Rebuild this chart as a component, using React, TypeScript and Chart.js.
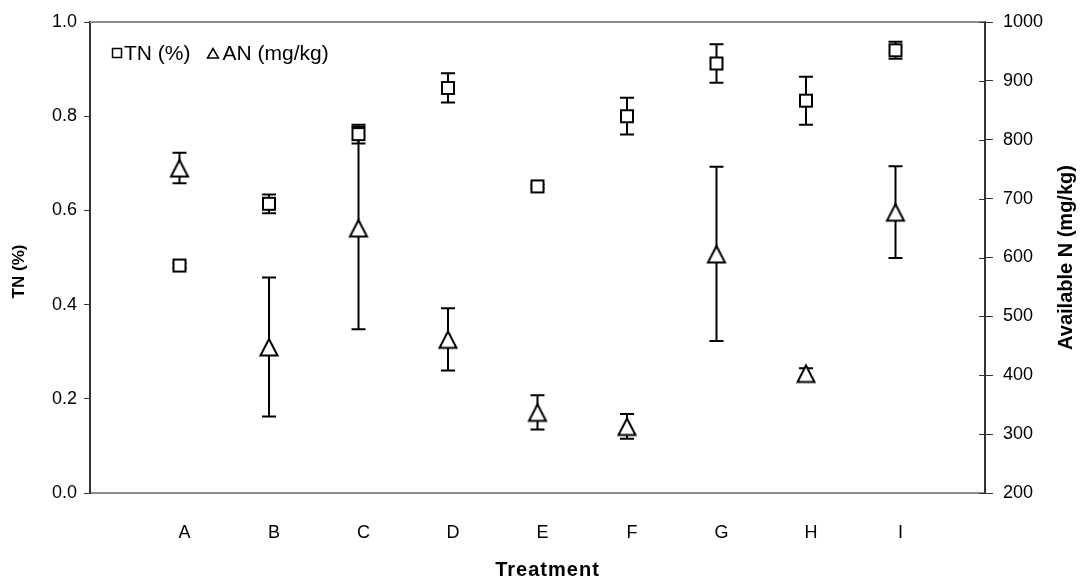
import React, { useEffect, useRef } from 'react';
import { Chart, registerables } from 'chart.js';

Chart.register(...registerables);

// ---- data ----
const categories = ['A', 'B', 'C', 'D', 'E', 'F', 'G', 'H', 'I'];
const tnMean = [0.483, 0.614, 0.762, 0.86, 0.651, 0.8, 0.912, 0.833, 0.94];
const tnErr = [0.005, 0.02, 0.02, 0.031, 0.004, 0.039, 0.041, 0.051, 0.018];
const anMean = [752, 448, 650, 461, 337, 313, 606, 403, 677];
const anErr = [26, 118, 172, 53, 29, 21, 148, 9, 78];
const seriesNames = ['TN (%)', 'AN (mg/kg)'];
const xTitle = 'Treatment';
const leftTitle = 'TN (%)';
const rightTitle = 'Available N (mg/kg)';

const FONT = "'Liberation Sans', Arial, sans-serif";

function makeMarker(kind: 'square' | 'triangle', small: boolean): HTMLCanvasElement {
  const c = document.createElement('canvas');
  const size = small ? 14 : kind === 'square' ? 16 : 24;
  c.width = size;
  c.height = size;
  const ctx = c.getContext('2d')!;
  ctx.fillStyle = '#ffffff';
  ctx.strokeStyle = '#000000';
  ctx.lineWidth = small ? 1.5 : 2;
  ctx.lineJoin = 'miter';
  ctx.beginPath();
  if (kind === 'square') {
    if (small) ctx.rect(2.5, 2.5, 9, 9);
    else ctx.rect(2, 2, 12, 12);
  } else {
    if (small) {
      ctx.moveTo(7, 2.5);
      ctx.lineTo(1.5, 12);
      ctx.lineTo(12.5, 12);
    } else {
      ctx.moveTo(12, 4);
      ctx.lineTo(3.5, 20.5);
      ctx.lineTo(20.5, 20.5);
    }
    ctx.closePath();
  }
  ctx.fill();
  ctx.stroke();
  return c;
}

function makePlugin(legendMarkers: HTMLCanvasElement[]) {
  return {
    id: 'errorBarsAndExtras',
    beforeDatasetsDraw(chart: any) {
      const ctx = chart.ctx;
      const sets = [
        { mean: tnMean, err: tnErr, axis: 'y' },
        { mean: anMean, err: anErr, axis: 'y1' },
      ];
      ctx.save();
      ctx.strokeStyle = '#000';
      ctx.lineWidth = 2;
      sets.forEach((s, di) => {
        const meta = chart.getDatasetMeta(di);
        const scale = chart.scales[s.axis];
        meta.data.forEach((pt: any, i: number) => {
          const x = pt.x;
          const yTop = scale.getPixelForValue(s.mean[i] + s.err[i]);
          const yBot = scale.getPixelForValue(s.mean[i] - s.err[i]);
          ctx.beginPath();
          ctx.moveTo(x, yTop);
          ctx.lineTo(x, yBot);
          ctx.moveTo(x - 7, yTop);
          ctx.lineTo(x + 7, yTop);
          ctx.moveTo(x - 7, yBot);
          ctx.lineTo(x + 7, yBot);
          ctx.stroke();
        });
      });
      ctx.restore();
    },
    afterDraw(chart: any) {
      const ctx = chart.ctx;
      const { left, right, top, bottom } = chart.chartArea;
      ctx.save();
      // top frame line
      ctx.strokeStyle = '#8c8c8c';
      ctx.lineWidth = 2;
      ctx.beginPath();
      ctx.moveTo(left, top);
      ctx.lineTo(right, top);
      ctx.stroke();
      // inner half of right-axis tick marks
      const y1 = chart.scales.y1;
      ctx.strokeStyle = '#333';
      ctx.lineWidth = 1;
      y1.ticks.forEach((t: any) => {
        const y = Math.round(y1.getPixelForValue(t.value)) + 0.5;
        ctx.beginPath();
        ctx.moveTo(right - 6, y);
        ctx.lineTo(right, y);
        ctx.stroke();
      });

      // legend (inside plot, top-left)
      ctx.fillStyle = '#000';
      ctx.font = `21px ${FONT}`;
      ctx.textAlign = 'left';
      ctx.textBaseline = 'middle';
      const ly = top + 31;
      let cx = left + 27;
      seriesNames.forEach((name, i) => {
        const m = legendMarkers[i];
        ctx.drawImage(m, Math.round(cx - m.width / 2), Math.round(ly - m.height / 2));
        const tx = cx + (i === 0 ? 7 : 9);
        ctx.fillText(name, tx, ly + 1);
        cx = tx + ctx.measureText(name).width + 23;
      });

      // axis titles
      ctx.textAlign = 'center';
      // x title
      ctx.font = `bold 20px ${FONT}`;
      try { (ctx as any).letterSpacing = '1px'; } catch (e) {}
      ctx.fillText(xTitle, (left + right) / 2 + 10, chart.height - 15);
      try { (ctx as any).letterSpacing = '0px'; } catch (e) {}
      // left title
      ctx.save();
      ctx.font = `bold 17px ${FONT}`;
      ctx.translate(19, (top + bottom) / 2 + 14);
      ctx.rotate(-Math.PI / 2);
      ctx.fillText(leftTitle, 0, 0);
      ctx.restore();
      // right title (reads bottom-to-top)
      ctx.save();
      ctx.font = `bold 20px ${FONT}`;
      ctx.translate(y1.right - 22, (top + bottom) / 2);
      ctx.rotate(-Math.PI / 2);
      ctx.fillText(rightTitle, 0, 0);
      ctx.restore();
      ctx.restore();
    },
  };
}

export default function App() {
  const ref = useRef<HTMLCanvasElement | null>(null);

  useEffect(() => {
    if (!ref.current) return;
    const sq = makeMarker('square', false);
    const tri = makeMarker('triangle', false);
    const sqSmall = makeMarker('square', true);
    const triSmall = makeMarker('triangle', true);

    const chart = new Chart(ref.current, {
      type: 'scatter',
      data: {
        datasets: [
          {
            label: seriesNames[0],
            data: tnMean.map((v, i) => ({ x: i + 1, y: v })),
            yAxisID: 'y',
            pointStyle: sq as any,
            showLine: false,
          },
          {
            label: seriesNames[1],
            data: anMean.map((v, i) => ({ x: i + 1, y: v })),
            yAxisID: 'y1',
            pointStyle: tri as any,
            showLine: false,
          },
        ],
      },
      options: {
        animation: false,
        responsive: true,
        maintainAspectRatio: false,
        layout: { padding: { top: 22, left: 0, right: 0, bottom: 0 } },
        plugins: {
          tooltip: { enabled: false },
          legend: { display: false },
        },
        scales: {
          x: {
            type: 'linear',
            min: 0,
            max: 10,
            afterBuildTicks: (axis: any) => {
              axis.ticks = categories.map((_, i) => ({ value: i + 1 }));
            },
            afterFit: (axis: any) => {
              axis.height = 92;
            },
            ticks: {
              autoSkip: false,
              maxRotation: 0,
              padding: 29,
              labelOffset: 5,
              color: '#000',
              font: { family: FONT, size: 18 },
              callback: (v: any) => categories[Number(v) - 1] ?? '',
            },
            grid: { display: false, drawTicks: false },
            border: { display: true, color: '#8c8c8c', width: 2 },
            title: { display: false },
          },
          y: {
            type: 'linear',
            position: 'left',
            min: 0,
            max: 1,
            afterFit: (axis: any) => {
              axis.width = 90;
            },
            ticks: {
              stepSize: 0.2,
              padding: 7,
              color: '#000',
              font: { family: FONT, size: 18 },
              callback: (v: any) => Number(v).toFixed(1),
            },
            grid: { display: true, drawOnChartArea: false, drawTicks: true, tickLength: 6, color: '#333', lineWidth: 1 },
            border: { display: true, color: '#333', width: 2 },
            title: { display: false },
          },
          y1: {
            type: 'linear',
            position: 'right',
            min: 200,
            max: 1000,
            afterFit: (axis: any) => {
              axis.width = 103;
            },
            ticks: {
              stepSize: 100,
              padding: 10,
              color: '#000',
              font: { family: FONT, size: 18 },
              callback: (v: any) => String(v),
            },
            grid: { display: true, drawOnChartArea: false, drawTicks: true, tickLength: 8, color: '#333', lineWidth: 1 },
            border: { display: true, color: '#333', width: 2 },
            title: { display: false },
          },
        },
      } as any,
      plugins: [makePlugin([sqSmall, triSmall])],
    });
    return () => chart.destroy();
  }, []);

  return (
    <div style={{ position: 'fixed', left: 0, top: 0, width: 1088, height: 585, background: '#fff' }}>
      <canvas ref={ref} />
    </div>
  );
}
